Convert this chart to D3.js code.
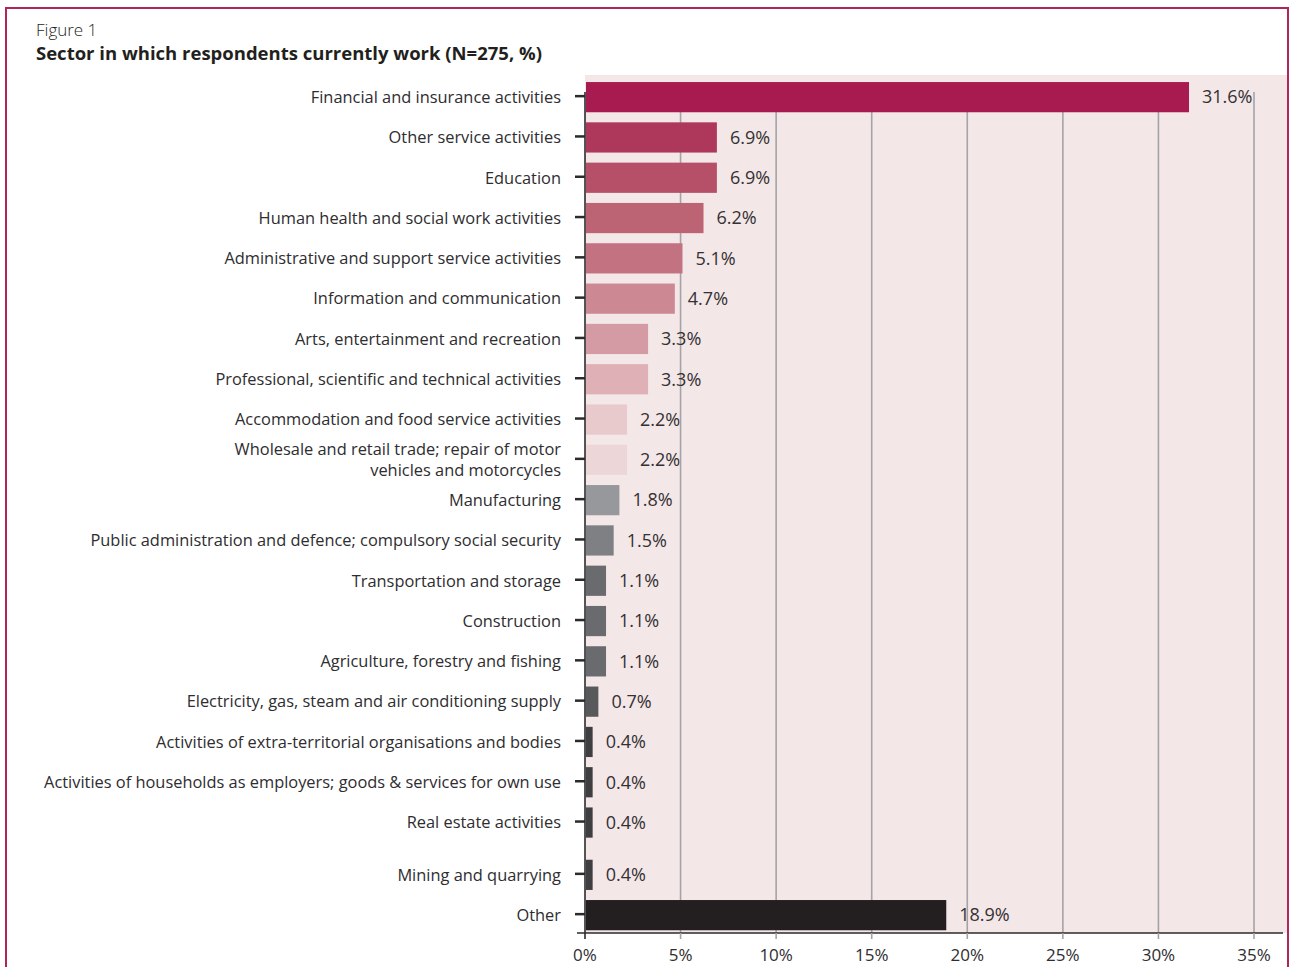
<!DOCTYPE html>
<html>
<head>
<meta charset="utf-8">
<script src="https://cdn.jsdelivr.net/npm/d3@7"></script>
<style>
  html, body { margin: 0; padding: 0; background: #ffffff; }
  svg { display: block; }
  text { font-family: "Open Sans", "Noto Sans", sans-serif; fill: #2b2a2c; }
</style>
</head>
<body>
<svg id="chart" width="1290" height="967"></svg>
<script>
// Sectors, top to bottom
const categories = [
  "Financial and insurance activities",
  "Other service activities",
  "Education",
  "Human health and social work activities",
  "Administrative and support service activities",
  "Information and communication",
  "Arts, entertainment and recreation",
  "Professional, scientific and technical activities",
  "Accommodation and food service activities",
  "Wholesale and retail trade; repair of motor|vehicles and motorcycles",
  "Manufacturing",
  "Public administration and defence; compulsory social security",
  "Transportation and storage",
  "Construction",
  "Agriculture, forestry and fishing",
  "Electricity, gas, steam and air conditioning supply",
  "Activities of extra-territorial organisations and bodies",
  "Activities of households as employers; goods & services for own use",
  "Real estate activities",
  "Mining and quarrying",
  "Other"
];

// Share of respondents (%)
const shares = [31.6, 6.9, 6.9, 6.2, 5.1, 4.7, 3.3, 3.3, 2.2, 2.2, 1.8, 1.5, 1.1, 1.1, 1.1, 0.7, 0.4, 0.4, 0.4, 0.4, 18.9];

// Bar fill per sector
const barColors = [
  "#a81b51", "#ae385b", "#b64f68", "#bc6374", "#c37282", "#cc8893",
  "#d59ba4", "#dfb0b6", "#e8c9cc", "#ecd6d8", "#97989b", "#7f8083",
  "#6a6b6e", "#6a6b6e", "#6a6b6e", "#58595b", "#3f3e40", "#3f3e40",
  "#3f3e40", "#3f3e40", "#231f20"
];

// X axis ticks (%)
const xTicks = [0, 5, 10, 15, 20, 25, 30, 35];

const titleSmall = "Figure 1";
const titleBold = "Sector in which respondents currently work (N=275, %)";

const svg = d3.select("#chart");

// Outer frame
svg.append("rect")
  .attr("x", 6).attr("y", 8)
  .attr("width", 1282).attr("height", 1000)
  .attr("fill", "none")
  .attr("stroke", "#b0255c")
  .attr("stroke-width", 2);

svg.append("text")
  .attr("x", 36).attr("y", 36)
  .style("font-size", "17px")
  .style("font-weight", 300)
  .style("fill", "#231f20")
  .text(titleSmall);

svg.append("text")
  .attr("x", 36).attr("y", 60)
  .style("font-size", "18.5px")
  .style("font-weight", 700)
  .style("fill", "#231f20")
  .text(titleBold);

// Plot geometry
const plotLeft = 585, plotTop = 75, plotRight = 1287, axisY = 933, gridTop = 92;

const x = d3.scaleLinear().domain([0, 35]).range([plotLeft, 1254]);

const rowStep = 40.3;
const y = d3.scaleBand()
  .domain(categories)
  .range([77, 77 + categories.length * rowStep])
  .paddingInner(0.25)
  .paddingOuter(0.125);

// Extra space before the last two rows
const gapFrom = categories.indexOf("Mining and quarrying");
const extraGap = 12;
const rowTop = (c, i) => y(c) + (i >= gapFrom ? extraGap : 0);
const rowMid = (c, i) => rowTop(c, i) + y.bandwidth() / 2;

// Background panel
svg.append("rect")
  .attr("x", plotLeft).attr("y", plotTop)
  .attr("width", plotRight - plotLeft).attr("height", axisY - plotTop)
  .attr("fill", "#f4e7e8");

// Vertical gridlines
svg.append("g")
  .selectAll("line")
  .data(xTicks.filter(d => d > 0))
  .join("line")
  .attr("x1", d => x(d)).attr("x2", d => x(d))
  .attr("y1", gridTop).attr("y2", axisY)
  .attr("stroke", "#a3a4a7")
  .attr("stroke-width", 1.6);

// Bars
svg.append("g")
  .selectAll("rect")
  .data(categories)
  .join("rect")
  .attr("x", x(0) + 1)
  .attr("y", (d, i) => rowTop(d, i))
  .attr("width", (d, i) => x(shares[i]) - x(0) - 1)
  .attr("height", y.bandwidth())
  .attr("fill", (d, i) => barColors[i]);

// Value labels
svg.append("g")
  .selectAll("text")
  .data(categories)
  .join("text")
  .attr("x", (d, i) => x(shares[i]) + 13)
  .attr("y", (d, i) => rowMid(d, i))
  .attr("dy", "0.35em")
  .style("font-size", "18px")
  .style("fill", "#333133")
  .text((d, i) => shares[i].toFixed(1) + "%");

// Y axis: line, ticks, category labels
const yAxis = svg.append("g");
yAxis.append("line")
  .attr("x1", plotLeft).attr("x2", plotLeft)
  .attr("y1", gridTop).attr("y2", axisY)
  .attr("stroke", "#2b2a2c").attr("stroke-width", 1.6);

yAxis.selectAll("line.tick")
  .data(categories)
  .join("line")
  .attr("class", "tick")
  .attr("x1", plotLeft - 10).attr("x2", plotLeft)
  .attr("y1", (d, i) => rowMid(d, i) - 1)
  .attr("y2", (d, i) => rowMid(d, i) - 1)
  .attr("stroke", "#2b2a2c").attr("stroke-width", 2.5);

const labels = yAxis.selectAll("text.cat")
  .data(categories)
  .join("text")
  .attr("class", "cat")
  .attr("text-anchor", "end")
  .style("font-size", "16.4px")
  .style("font-weight", 400)
  .style("fill", "#2e2d2f")
  .attr("transform", (d, i) => `translate(${plotLeft - 24},${rowMid(d, i)})`);

labels.each(function(d) {
  const lines = d.split("|");
  const t = d3.select(this);
  const lh = 21;
  lines.forEach((ln, k) => {
    t.append("tspan")
      .attr("x", 0)
      .attr("y", (k - (lines.length - 1) / 2) * lh)
      .attr("dy", "0.35em")
      .text(ln);
  });
});

// X axis
const xAxis = svg.append("g");
xAxis.append("line")
  .attr("x1", plotLeft - 8).attr("x2", 1283)
  .attr("y1", axisY).attr("y2", axisY)
  .attr("stroke", "#2b2a2c").attr("stroke-width", 1.6);

xAxis.selectAll("line.tick")
  .data(xTicks)
  .join("line")
  .attr("class", "tick")
  .attr("x1", d => x(d)).attr("x2", d => x(d))
  .attr("y1", axisY).attr("y2", axisY + 6)
  .attr("stroke", (d) => d === 0 ? "#2b2a2c" : "#a3a4a7")
  .attr("stroke-width", 1.6);

xAxis.selectAll("text")
  .data(xTicks)
  .join("text")
  .attr("x", d => x(d))
  .attr("y", 961)
  .attr("text-anchor", "middle")
  .style("font-size", "17px")
  .style("font-weight", 400)
  .style("fill", "#2e2d2f")
  .text(d => d + "%");
</script>
</body>
</html>
